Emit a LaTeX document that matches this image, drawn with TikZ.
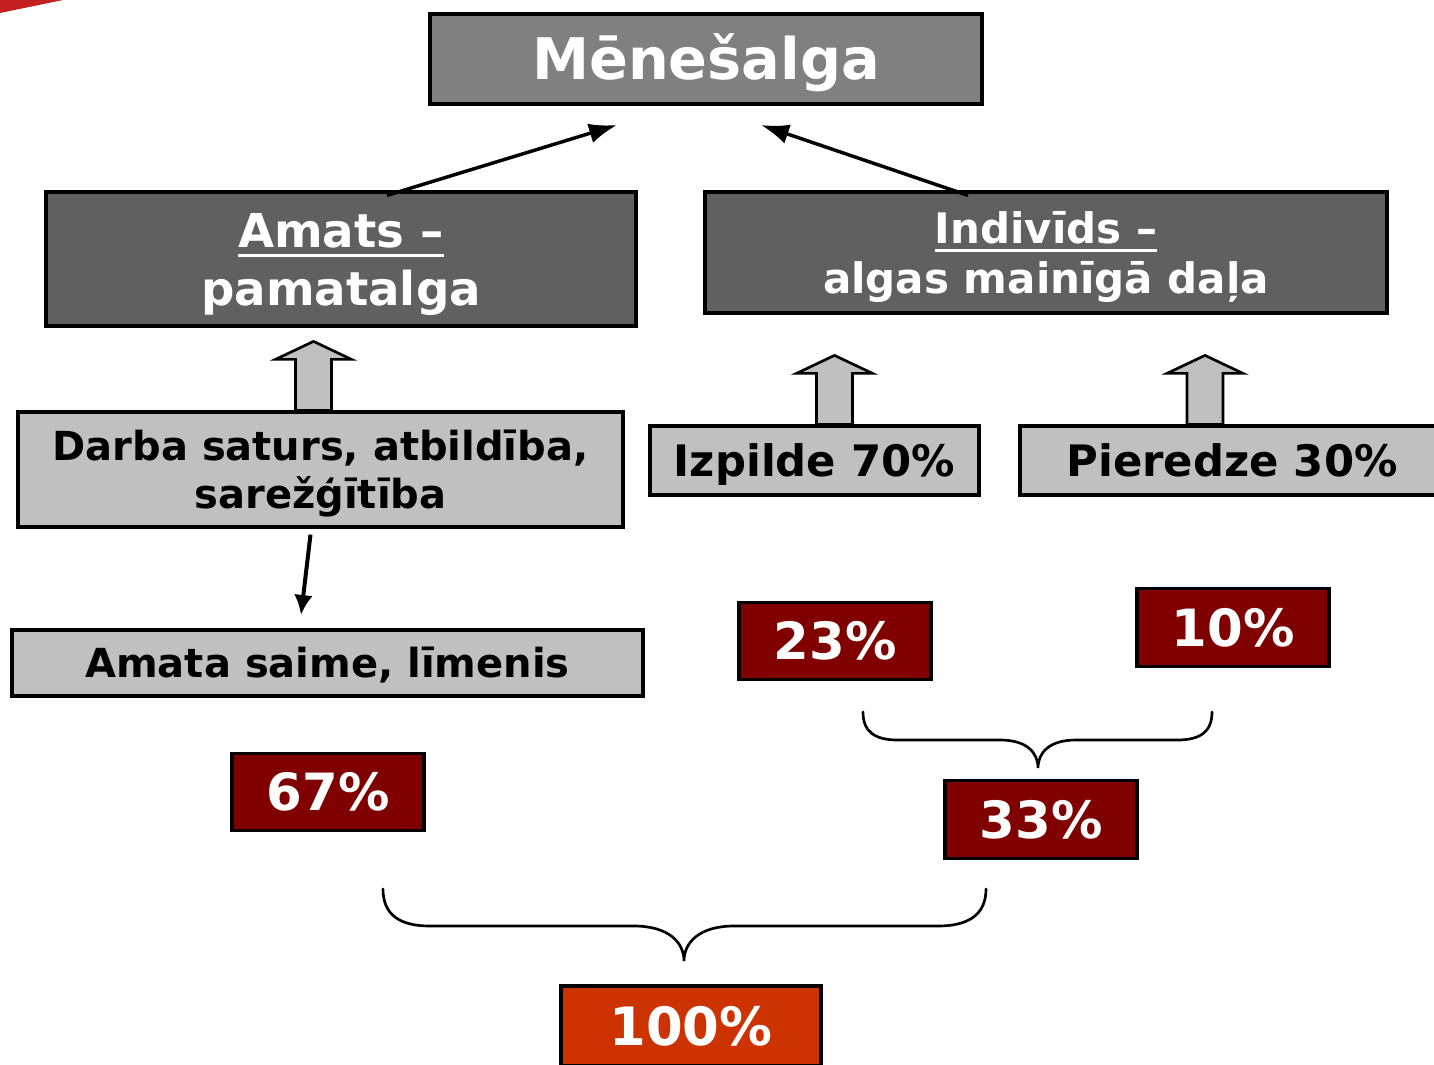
\documentclass[tikz,border=0pt]{standalone}
\usepackage{fontspec}
\setmainfont{DejaVu Sans}
\usepackage{tikz}
\definecolor{topGray}{HTML}{808080}
\definecolor{darkGray}{HTML}{606060}
\definecolor{lightGray}{HTML}{C0C0C0}
\definecolor{darkRed}{HTML}{800000}
\definecolor{brightRed}{HTML}{CC3300}
\definecolor{cornerRed}{HTML}{C4201F}
\usetikzlibrary{calc}
\usetikzlibrary{arrows.meta}
\newcommand{\ulined}[1]{\setbox0\hbox{#1}\rlap{\rule[-0.22em]{\wd0}{0.07em}}\box0}
\tikzset{
  box/.style={draw, line width=2.4pt, inner sep=0pt, align=center},
  titlebox/.style={box, fill=topGray, text=white},
  headbox/.style={box, fill=darkGray, text=white, text depth=0pt},
  factorbox/.style={box, fill=lightGray, text=black},
  pctbox/.style={box, fill=darkRed, text=white, minimum width=144pt, minimum height=58pt,
    text height=28.1pt, text depth=0pt, font=\bfseries\fontsize{38.5}{44}\selectfont},
  thinarrow/.style={line width=2.6pt, -{Latex[length=21pt,width=15pt]}},
  uparrow/.style={draw, line width=2pt, fill=lightGray, line join=miter},
  brace/.style={line width=2pt, line cap=round}
}

\begin{document}
\begin{tikzpicture}[x=0.75pt, y=-0.75pt]
        \useasboundingbox (0,0) rectangle (1434,1064);
        \fill[cornerRed] (0,0) -- (63,0) -- (0,13) -- cycle;

        % boxes
        \node[titlebox, minimum width=414pt, minimum height=67.5pt, text height=31.4pt, text depth=0pt, font=\bfseries\fontsize{43}{50}\selectfont] (men) at (706,59) {Mēnešalga};
        \node[headbox, minimum width=442.5pt, minimum height=100.5pt, font=\bfseries\fontsize{35}{43.5}\selectfont] (amats) at (341,259) {\ulined{Amats –}\\pamatalga};
        \node[headbox, minimum width=511.5pt, minimum height=90.75pt, font=\bfseries\fontsize{31.5}{38}\selectfont] (indiv) at (1046,252.5) {\ulined{Indivīds –}\\algas mainīgā daļa};

        \node[factorbox, minimum width=453.75pt, minimum height=86.25pt, text depth=0pt, font=\bfseries\fontsize{30}{36}\selectfont] (darba) at (320.5,469.5) {Darba saturs, atbildība,\\sarežģītība};
        \node[factorbox, minimum width=246.75pt, minimum height=51.75pt, text height=23.7pt, text depth=0pt, font=\bfseries\fontsize{32.5}{38}\selectfont] (izp) at (814.5,460.5) {Izpilde 70\%};
        \node[factorbox, minimum width=318pt, minimum height=51.75pt, text height=23.7pt, text depth=0pt, font=\bfseries\fontsize{32.5}{38}\selectfont] (pier) at (1232,460.5) {Pieredze 30\%};
        \node[factorbox, minimum width=473.25pt, minimum height=49.5pt, text height=21.9pt, text depth=0pt, font=\bfseries\fontsize{30}{36}\selectfont] (amata) at (327.5,663) {Amata saime, līmenis};

        \node[pctbox] (p23) at (835,641) {23\%};
        \node[pctbox] (p10) at (1233,627.5) {10\%};
        \node[pctbox] (p67) at (328,792) {67\%};
        \node[pctbox] (p33) at (1041,819.5) {33\%};
        \node[pctbox, fill=brightRed, minimum width=195pt, minimum height=60pt, text height=28.9pt, font=\bfseries\fontsize{39.6}{45}\selectfont] (p100) at (691,1026) {100\%};

        % arrows to the top
        \coordinate (menL) at (617,125);
        \coordinate (menR) at (761,125);
        \draw[thinarrow] ($(amats.north)+(46,5)$) -- (menL);
        \draw[thinarrow] ($(indiv.north)+(-78,5)$) -- (menR);

        \coordinate (saimeTip) at (301,615);
        \draw[thinarrow, line width=3pt, -{Latex[length=15pt,width=14pt]}] ($(darba.south)+(-10,6)$) -- (saimeTip);

        % block arrows
        \foreach \b/\dx in {darba/-7, izp/20, pier/-27}
          \draw[uparrow] ($(\b.north)+(\dx,0)$) -- ++(-18,0) -- ++(0,-51) -- ++(-20,0)
            -- ++(38,-18) -- ++(38,18) -- ++(-20,0) -- ++(0,51) -- cycle;

        % braces
        \draw[brace] (863,712) .. controls (863,732) and (875,740) .. (898,740) -- (1000,740)
          .. controls (1026,740) and (1038,752) .. (1038,768)
          .. controls (1038,752) and (1050,740) .. (1076,740) -- (1177,740)
          .. controls (1200,740) and (1212,732) .. (1212,712);
        \draw[brace] (383,889) .. controls (383,915) and (400,926) .. (430,926) -- (634,926)
          .. controls (668,926) and (684,942) .. (684,961)
          .. controls (684,942) and (700,926) .. (734,926) -- (938,926)
          .. controls (968,926) and (986,915) .. (986,889);
    \end{tikzpicture}
\end{document}
